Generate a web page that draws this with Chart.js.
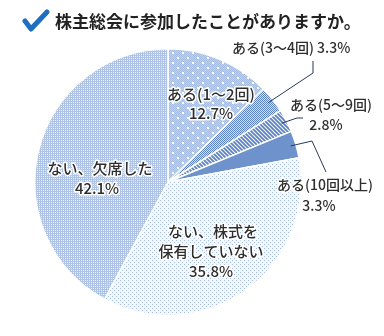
<!DOCTYPE html>
<html>
<head>
<meta charset="utf-8">
<script src="https://cdn.jsdelivr.net/npm/chart.js@4"></script>
<style>
  html, body { margin: 0; background: #fff; }
  #wrap { width: 384px; height: 336px; position: relative; }
</style>
</head>
<body>
<div id="wrap"><canvas id="pie"></canvas></div>
<script>
// Datos del gráfico
const titulo = '株主総会に参加したことがありますか。';
const categorias = ['ある(1〜2回)', 'ある(3〜4回)', 'ある(5〜9回)', 'ある(10回以上)', 'ない、株式を保有していない', 'ない、欠席した'];
const valores = [12.7, 3.3, 2.8, 3.3, 35.8, 42.1];
const etiquetas = [
  ['ある(1〜2回)', '12.7%'],
  ['ある(3〜4回) 3.3%'],
  ['ある(5〜9回)', '2.8%'],
  ['ある(10回以上)', '3.3%'],
  ['ない、株式を', '保有していない', '35.8%'],
  ['ない、欠席した', '42.1%']
];

// Posición de cada etiqueta (líneas: [x, y, align]) y guías para las externas
const layoutEtiquetas = [
  { size: 15, lines: [[211, 94, 'center'], [211, 113, 'center']] },
  { size: 14, lines: [[232, 48, 'left']], guia: [[313, 73], [313, 61]] },
  { size: 14, lines: [[290, 105, 'left'], [326, 125, 'center']], guia: [[297, 118], [303, 118]] },
  { size: 14, lines: [[277, 185, 'left'], [319, 206, 'center']], guia: [[312, 141], [326, 172]] },
  { size: 15, lines: [[213, 231, 'center'], [211, 251, 'center'], [211, 271, 'center']] },
  { size: 15, lines: [[100, 168, 'center'], [97, 188, 'center']] }
];

// Tramas (patterns) de cada porción
function trama(size, fondo, dibujar) {
  const c = document.createElement('canvas');
  c.width = c.height = size;
  const x = c.getContext('2d');
  x.fillStyle = fondo;
  x.fillRect(0, 0, size, size);
  if (dibujar) dibujar(x);
  return x.createPattern(c, 'repeat');
}

const colores = [
  trama(10, '#a6bee3', x => {
    x.fillStyle = '#bfd0ec';
    for (let i = 0; i < 10; i++) for (let j = 0; j < 10; j++) if ((i + j) % 2) x.fillRect(i, j, 1, 1);
    x.fillStyle = '#ffffff';
    x.fillRect(2, 2, 2, 2);
    x.fillRect(7, 7, 2, 2);
  }),
  trama(2, '#d3dff2', x => {
    x.fillStyle = '#5d84c4';
    x.fillRect(0, 0, 1, 1);
    x.fillRect(1, 1, 1, 1);
  }),
  trama(4, '#eef3fa', x => {
    x.strokeStyle = '#5a80c0';
    x.lineWidth = 1.6;
    x.beginPath();
    x.moveTo(-1, -1); x.lineTo(5, 5);
    x.moveTo(-1, 3); x.lineTo(1, 5);
    x.moveTo(3, -1); x.lineTo(5, 1);
    x.stroke();
  }),
  '#6e92cc',
  trama(4, '#f4f7fc', x => {
    x.fillStyle = '#a4bbe0';
    x.fillRect(0, 0, 1, 1);
    x.fillRect(2, 2, 1, 1);
  }),
  trama(2, '#eaf0f9', x => {
    x.fillStyle = '#afc3e6';
    x.fillRect(0, 0, 1, 1);
    x.fillRect(1, 1, 1, 1);
    x.fillRect(0, 1, 1, 1);
  })
];

const fuente = "'Noto Sans CJK JP', 'Noto Sans', sans-serif";

function texto(ctx, t, x, y, size, align, peso) {
  ctx.font = `${peso || '500'} ${size}px ${fuente}`;
  ctx.textAlign = align;
  ctx.textBaseline = 'middle';
  ctx.lineJoin = 'round';
  ctx.strokeStyle = '#ffffff';
  ctx.lineWidth = 3;
  ctx.strokeText(t, x, y);
  ctx.fillStyle = '#2e2e2e';
  ctx.fillText(t, x, y);
}

const pluginEtiquetas = {
  id: 'etiquetas',
  afterDatasetsDraw(chart) {
    const ctx = chart.ctx;
    const arcs = chart.getDatasetMeta(0).data;
    ctx.save();
    arcs.forEach((arc, i) => {
      const cfg = layoutEtiquetas[i];
      if (cfg.guia) {
        const p = arc.getProps(['x', 'y', 'startAngle', 'endAngle', 'outerRadius'], true);
        const a = (p.startAngle + p.endAngle) / 2;
        const r = p.outerRadius * 0.96;
        ctx.beginPath();
        ctx.moveTo(p.x + Math.cos(a) * r, p.y + Math.sin(a) * r);
        cfg.guia.forEach(pt => ctx.lineTo(pt[0], pt[1]));
        ctx.strokeStyle = '#2b3a55';
        ctx.lineWidth = 1;
        ctx.stroke();
      }
    });
    arcs.forEach((arc, i) => {
      const cfg = layoutEtiquetas[i];
      etiquetas[i].forEach((t, k) => {
        const [x, y, align] = cfg.lines[k];
        texto(ctx, t, x, y, cfg.size, align);
      });
    });
    // Título con el check azul
    ctx.beginPath();
    ctx.moveTo(25, 21);
    ctx.lineTo(31, 29);
    ctx.lineTo(47, 12);
    ctx.strokeStyle = '#1e6fc1';
    ctx.lineWidth = 5;
    ctx.lineCap = 'round';
    ctx.lineJoin = 'round';
    ctx.stroke();
    ctx.font = `bold 17px ${fuente}`;
    ctx.textAlign = 'left';
    ctx.textBaseline = 'middle';
    ctx.fillStyle = '#222222';
    ctx.fillText(titulo, 55, 22);
    ctx.restore();
  }
};

new Chart(document.getElementById('pie'), {
  type: 'pie',
  data: {
    labels: categorias,
    datasets: [{
      data: valores,
      backgroundColor: colores,
      borderColor: '#ffffff',
      borderWidth: 1.5
    }]
  },
  options: {
    responsive: true,
    maintainAspectRatio: false,
    animation: false,
    layout: { padding: { top: 48, left: 34, right: 82, bottom: 20 } },
    plugins: {
      legend: { display: false },
      tooltip: { enabled: false }
    }
  },
  plugins: [pluginEtiquetas]
});
</script>
</body>
</html>
